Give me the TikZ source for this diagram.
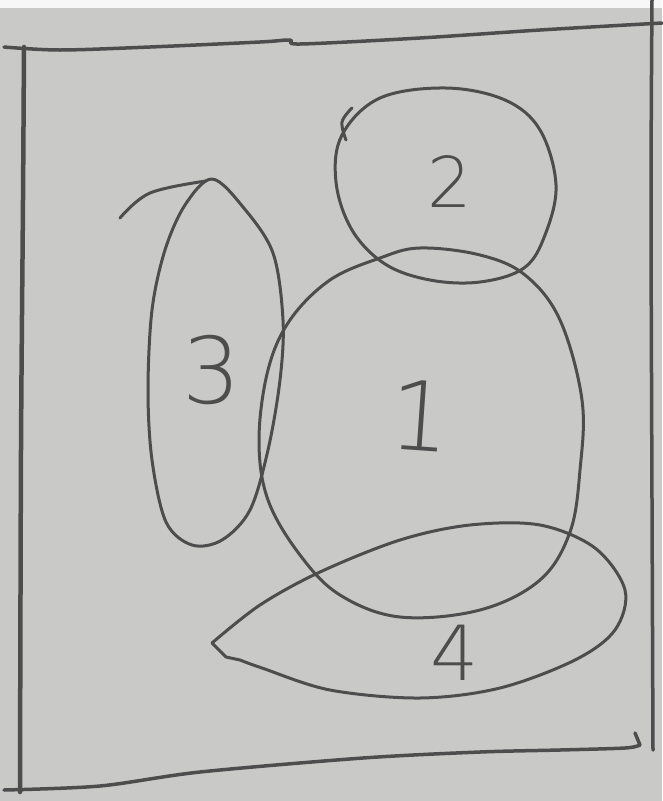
\documentclass[tikz,border=0pt]{standalone}
\usepackage{fontspec}
\newfontfamily\hand{DejaVu Sans ExtraLight}
\definecolor{paper}{HTML}{C9CAC8}
\definecolor{ink}{HTML}{4C4D4C}
\begin{document}
\begin{tikzpicture}[x=1pt,y=-1pt,
  pen/.style={draw=ink, line width=3pt, line cap=round, line join=round},
  frame/.style={draw=ink, line width=3.5pt, line cap=round, line join=round},
  digit/.style={text=ink, inner sep=0pt}]
\useasboundingbox (0,0) rectangle (662,801);
\fill[paper] (0,0) rectangle (662,801);
\fill[white!85!paper] (0,0) rectangle (662,8);
% frame
\draw[frame] plot[smooth, tension=0.5] coordinates {(4,47) (60,50) (150,47) (260,42) (290,40) (300,44) (420,38) (540,30) (662,23)};
\draw[frame, line width=4.5pt] plot[smooth, tension=0.5] coordinates {(24,47) (23,200) (21,450) (20,792)};
\draw[frame] plot[smooth, tension=0.5] coordinates {(652,0) (651,200) (652,500) (653,750)};
\draw[frame] plot[smooth, tension=0.5] coordinates {(4,790) (100,786) (200,772) (363,758) (480,752) (560,750) (625,748) (640,745)} -- (635,733);
% circle 1
\draw[pen] plot[smooth cycle, tension=0.6] coordinates {(420,248) (480,255) (525,275) (560,320) (582,400) (580,470) (570,532) (540,580) (480,610) (400,617) (340,595) (300,555) (268,500) (259,440) (268,370) (290,320) (330,280) (380,258)};
% circle 2
\draw[pen] plot[smooth cycle, tension=0.6] coordinates {(446,88) (505,100) (540,130) (556,185) (545,235) (524,268) (480,282) (430,280) (385,264) (352,230) (336,182) (342,135) (380,98)};
\draw[pen] plot[smooth, tension=0.6] coordinates {(352,108) (342,122) (346,140)};
% ellipse 3
\draw[pen] plot[smooth cycle, tension=0.55] coordinates {(212,179) (243,207) (273,253) (283,320) (280,380) (268,450) (250,510) (222,540) (192,545) (166,522) (152,460) (148,390) (152,310) (165,250) (185,205)};
\draw[pen] plot[smooth, tension=0.6] coordinates {(120,218) (150,193) (206,181)};
% ellipse 4
\draw[pen] plot[smooth, tension=0.55] coordinates {(212,643) (260,605) (320,572) (400,540) (470,525) (540,525) (595,548) (625,590) (615,630) (575,660) (500,688) (420,698) (330,690) (262,668) (240,660)} -- (226,657) -- (212,643);
% labels
\node[digit, font=\hand\fontsize{70}{70}\selectfont] (two) at (450,182) {2};
\node[digit, font=\hand\fontsize{92}{92}\selectfont] (three) at (212,370) {3};
\node[digit, font=\hand\fontsize{96}{96}\selectfont, rotate=-4] (one) at (420,416) {1};
\node[digit, font=\hand\fontsize{76}{76}\selectfont] (four) at (455,653) {4};
\end{tikzpicture}
\end{document}
